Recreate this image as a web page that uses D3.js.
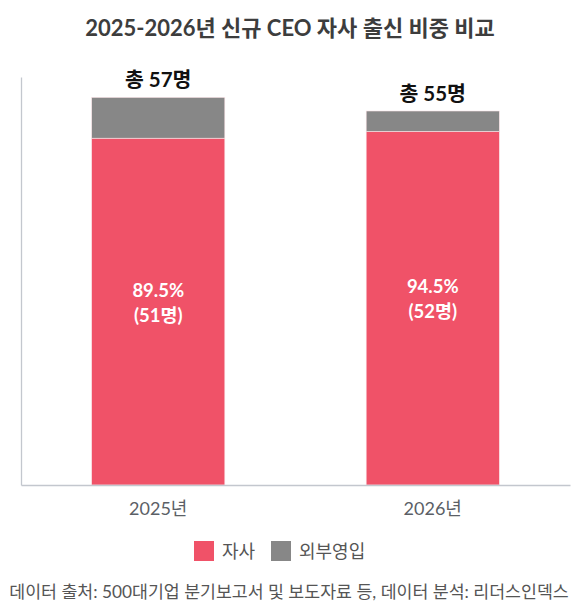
<!DOCTYPE html>
<html>
<head>
<meta charset="utf-8">
<script src="https://cdn.jsdelivr.net/npm/d3@7/dist/d3.min.js"></script>
<style>
  body { margin: 0; background: #fff; }
  svg text { font-family: Lato, 'Noto Sans CJK KR', sans-serif; }
</style>
</head>
<body>
<svg id="chart" width="580" height="610"></svg>
<script>
(function() {
  'use strict';

  var years = ['2025년', '2026년'];
  var internalCeo = [51, 52];
  var externalCeo = [6, 3];
  var seriesNames = ['자사', '외부영입'];
  var seriesColors = ['#f05268', '#878787'];

  var svg = d3.select('#chart'),
    margin = {top: 77, right: 10, bottom: 125, left: 21},
    width = 580 - margin.left - margin.right,
    height = 610 - margin.top - margin.bottom;

  var rows = years.map(function(y, i) {
    return {year: y, internal: internalCeo[i], external: externalCeo[i]};
  });

  var stack = d3.stack().keys(['internal', 'external']);
  var layers = stack(rows);

  var x = d3.scaleBand()
    .domain(years)
    .range([0, width])
    .paddingInner(0.515)
    .paddingOuter(0.2575);

  var y = d3.scaleLinear()
    .domain([0, 60])
    .range([height, 0]);

  var color = d3.scaleOrdinal()
    .domain(['internal', 'external'])
    .range(seriesColors);

  // title
  svg.append('text')
    .attr('x', 290)
    .attr('y', 36)
    .attr('text-anchor', 'middle')
    .style('font-size', '22px')
    .style('font-weight', 'bold')
    .style('fill', '#3d3d3d')
    .text('2025-2026년 신규 CEO 자사 출신 비중 비교');

  var g = svg.append('g')
    .attr('transform', 'translate(' + margin.left + ',' + margin.top + ')');

  g.selectAll('g.layer')
    .data(layers)
    .enter().append('g')
    .attr('class', 'layer')
    .attr('fill', function(d) { return color(d.key); })
    .selectAll('rect')
    .data(function(d) { return d; })
    .enter().append('rect')
    .attr('x', function(d) { return x(d.data.year); })
    .attr('y', function(d) { return y(d[1]); })
    .attr('width', x.bandwidth())
    .attr('height', function(d) { return y(d[0]) - y(d[1]); })
    .attr('stroke', '#fbe3e6')
    .attr('stroke-width', 0.6);

  // axes: only the lines, no ticks
  var xAxis = g.append('g')
    .attr('transform', 'translate(0,' + height + ')')
    .call(d3.axisBottom(x).tickSize(0).tickPadding(14));
  xAxis.select('.domain').attr('stroke', '#c3c7ce').attr('stroke-width', 1.3);
  xAxis.selectAll('text')
    .style('font-size', '18px')
    .style('fill', '#5b5f66')
    .attr('dy', '0.9em');

  var yAxis = g.append('g')
    .call(d3.axisLeft(y).tickValues([]).tickSize(0));
  yAxis.select('.domain').attr('stroke', '#c3c7ce').attr('stroke-width', 1.3);

  // totals above bars
  g.selectAll('text.total')
    .data(rows)
    .enter().append('text')
    .attr('class', 'total')
    .attr('x', function(d) { return x(d.year) + x.bandwidth() / 2; })
    .attr('y', function(d) { return y(d.internal + d.external) - 10; })
    .attr('text-anchor', 'middle')
    .style('font-size', '20.5px')
    .style('font-weight', 'bold')
    .style('fill', '#111')
    .text(function(d) { return '총 ' + (d.internal + d.external) + '명'; });

  // share labels inside the red segment
  var pct = d3.format('.1f');
  var inner = g.selectAll('text.share')
    .data(rows)
    .enter().append('text')
    .attr('class', 'share')
    .attr('text-anchor', 'middle')
    .style('font-size', '18.5px')
    .style('font-weight', 'bold')
    .style('fill', '#fff')
    .attr('transform', function(d) {
      return 'translate(' + (x(d.year) + x.bandwidth() / 2) + ',' + (y(d.internal / 2) - 15) + ')';
    });
  inner.append('tspan')
    .attr('x', 0)
    .attr('y', 0)
    .text(function(d) { return pct(d.internal / (d.internal + d.external) * 100) + '%'; });
  inner.append('tspan')
    .attr('x', 0)
    .attr('y', 25)
    .text(function(d) { return '(' + d.internal + '명)'; });

  // legend
  var legend = svg.append('g')
    .attr('transform', 'translate(194,541)');
  var legendX = [0, 77];
  legend.selectAll('rect')
    .data(seriesColors)
    .enter().append('rect')
    .attr('x', function(d, i) { return legendX[i]; })
    .attr('y', 0)
    .attr('width', 20)
    .attr('height', 20)
    .attr('fill', function(d) { return d; });
  legend.selectAll('text')
    .data(seriesNames)
    .enter().append('text')
    .attr('x', function(d, i) { return legendX[i] + 28; })
    .attr('y', 17)
    .style('font-size', '18px')
    .style('fill', '#555')
    .text(function(d) { return d; });

  // source note
  svg.append('text')
    .attr('x', 289)
    .attr('y', 598)
    .attr('text-anchor', 'middle')
    .style('font-size', '17.3px')
    .style('fill', '#555')
    .text('데이터 출처: 500대기업 분기보고서 및 보도자료 등, 데이터 분석: 리더스인덱스');

}).call(this);
</script>
</body>
</html>
